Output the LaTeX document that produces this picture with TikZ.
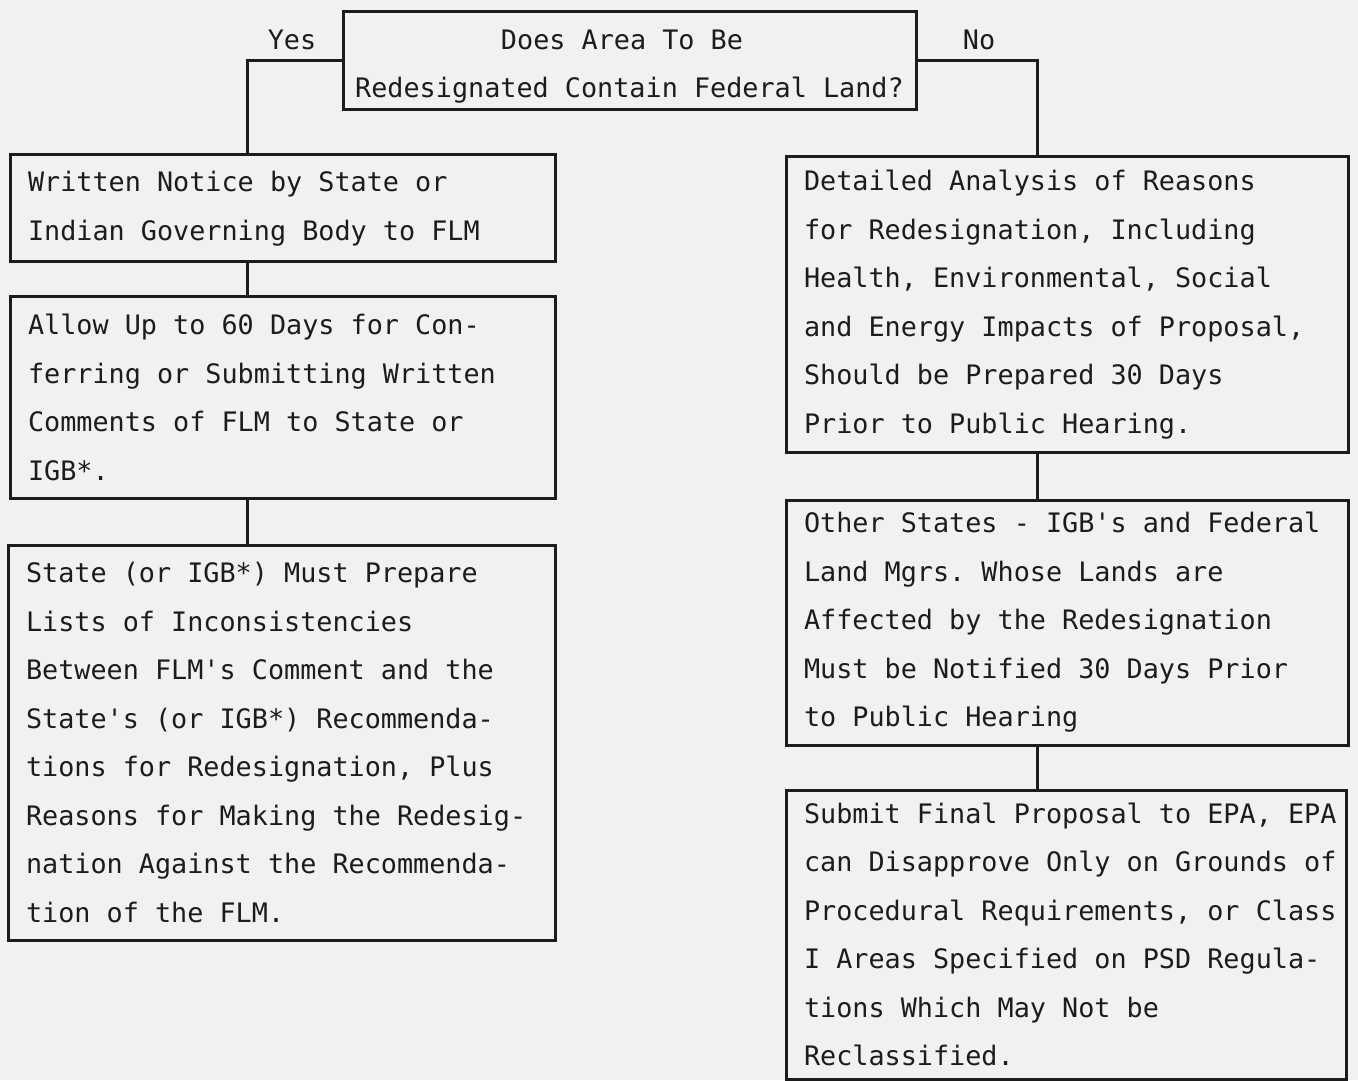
\documentclass[tikz,border=0pt]{standalone}
\usepackage{fontspec}
\setmonofont{DejaVu Sans Mono}
\definecolor{paper}{HTML}{F1F1EF}
\definecolor{ink}{HTML}{1C1C1C}
\newcommand\monosp{\spaceskip=0.602em\relax\xspaceskip=0.602em\relax}
\begin{document}
\begin{tikzpicture}[x=0.5pt,y=-0.5pt,
  every node/.style={font=\ttfamily\fontsize{13.4}{24.25}\selectfont, text=ink},
  box/.style={draw=ink, line width=1.5pt, rectangle, inner ysep=0pt, inner xsep=9pt},
  conn/.style={draw=ink, line width=1.5pt},
  lbl/.style={inner sep=0pt}]
\fill[paper] (0,0) rectangle (1358,1080);
\useasboundingbox (0,0) rectangle (1358,1080);

\coordinate (lx) at (247,0);
\coordinate (rx) at (1037,0);

\node[box, inner xsep=0pt, minimum width=286.5pt, minimum height=49pt] (top) at (629.5,61)
  {\raisebox{-1.5pt}[\height][\depth]{\begin{tabular}{@{}c@{}}\hspace*{-7.5pt}Does Area To Be\\Redesignated Contain Federal Land?\end{tabular}}};
\node[lbl] (yes) at (292,40) {Yes};
\node[lbl] (no) at (979,40) {No};

\node[box, text width=254.5pt, minimum height=53.5pt] (l1) at (282.5,208.5)
  {\monosp Written Notice by State or\\Indian Governing Body to FLM};
\node[box, text width=254.5pt, minimum height=100.5pt] (l2) at (282.5,397.5)
  {\monosp Allow Up to 60 Days for Con-\\ferring or Submitting Written\\Comments of FLM to State or\\IGB*.};
\node[box, text width=255.5pt, minimum height=197.5pt] (l3) at (281.5,742.5)
  {\monosp State (or IGB*) Must Prepare\\Lists of Inconsistencies\\Between FLM's Comment and the\\State's (or IGB*) Recommenda-\\tions for Redesignation, Plus\\Reasons for Making the Redesig-\\nation Against the Recommenda-\\tion of the FLM.};

\node[box, text width=263pt, minimum height=147.5pt] (r1) at (1067,304.5)
  {\monosp Detailed Analysis of Reasons\\for Redesignation, Including\\Health, Environmental, Social\\and Energy Impacts of Proposal,\\Should be Prepared 30 Days\\Prior to Public Hearing.};
\node[box, text width=263pt, minimum height=122.5pt] (r2) at (1067,622.5)
  {\monosp Other States - IGB's and Federal\\Land Mgrs. Whose Lands are\\Affected by the Redesignation\\Must be Notified 30 Days Prior\\to Public Hearing};
\node[box, text width=262pt, minimum height=144.5pt] (r3) at (1066,934.5)
  {\monosp\mbox{Submit Final Proposal to EPA, EPA}\\\mbox{can Disapprove Only on Grounds of}\\\mbox{Procedural Requirements, or Class}\\I Areas Specified on PSD Regula-\\tions Which May Not be\\Reclassified.};

\draw[conn] (top.west) -| (l1.north -| lx);
\draw[conn] (top.east) -| (r1.north -| rx);
\draw[conn] (l1.south -| lx) -- (l2.north -| lx);
\draw[conn] (l2.south -| lx) -- (l3.north -| lx);
\draw[conn] (r1.south -| rx) -- (r2.north -| rx);
\draw[conn] (r2.south -| rx) -- (r3.north -| rx);
\end{tikzpicture}
\end{document}
